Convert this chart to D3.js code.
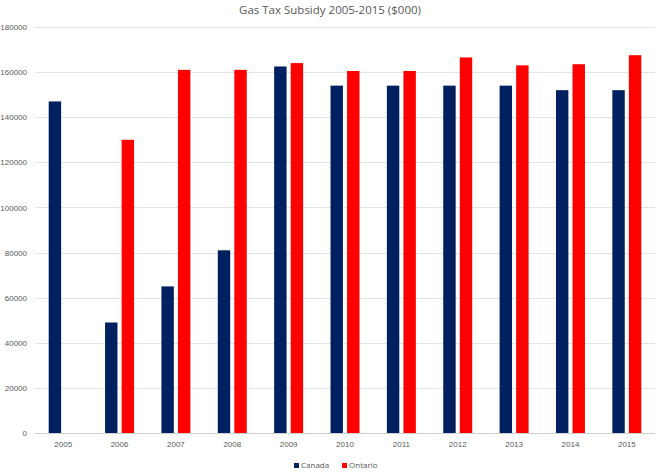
<!DOCTYPE html>
<html>
<head>
<meta charset="utf-8">
<script src="https://cdn.jsdelivr.net/npm/d3@7"></script>
<style>
  body { margin: 0; background: #fff; }
  svg { display: block; font-family: "Open Sans", sans-serif; }
</style>
</head>
<body>
<svg id="chart" width="660" height="474"></svg>
<script>
// data ($000)
var years = ["2005", "2006", "2007", "2008", "2009", "2010", "2011", "2012", "2013", "2014", "2015"];
var canada = [147000, 49000, 65000, 81000, 162500, 154000, 154000, 154000, 154000, 152000, 152000];
var ontario = [0, 130000, 161000, 161000, 164000, 160500, 160500, 166500, 163000, 163500, 167500];
var seriesNames = ["Canada", "Ontario"];
var seriesColors = ["#002060", "#ff0000"];
var yTicks = [0, 20000, 40000, 60000, 80000, 100000, 120000, 140000, 160000, 180000];

var svg = d3.select("#chart"),
    margin = {top: 27, right: 5, bottom: 41, left: 35},
    width = +svg.attr("width") - margin.left - margin.right,
    height = +svg.attr("height") - margin.top - margin.bottom;

var rows = years.map(function (y, i) {
    return {year: y, values: [canada[i], ontario[i]]};
});

var x0 = d3.scaleBand()
    .domain(years)
    .range([0, width])
    .paddingInner(0.486)
    .paddingOuter(0.243);

var x1 = d3.scaleBand()
    .domain(seriesNames)
    .range([0, x0.bandwidth()])
    .paddingInner(0.25);

var y = d3.scaleLinear()
    .domain([0, 180000])
    .range([height, 0]);

var g = svg.append("g")
    .attr("transform", "translate(" + margin.left + "," + margin.top + ")");

// gridlines
g.append("g")
    .selectAll("line")
    .data(yTicks)
    .enter()
    .append("line")
    .attr("x1", 0)
    .attr("x2", width)
    .attr("y1", function (d) { return Math.round(y(d)) + 0.5; })
    .attr("y2", function (d) { return Math.round(y(d)) + 0.5; })
    .attr("stroke", function (d) { return d === 0 ? "#d0d0d0" : "#e3e3e3"; })
    .attr("stroke-width", 1);

// y axis labels
var yAxis = g.append("g")
    .call(d3.axisLeft(y).tickValues(yTicks).tickSize(0).tickPadding(8).tickFormat(d3.format("d")));
yAxis.select(".domain").remove();
yAxis.selectAll("text")
    .attr("fill", "#595959")
    .style("font-size", "8px");

// x axis labels
var xAxis = g.append("g")
    .attr("transform", "translate(0," + height + ")")
    .call(d3.axisBottom(x0).tickSize(0).tickPadding(8));
xAxis.select(".domain").remove();
xAxis.selectAll("text")
    .attr("fill", "#595959")
    .style("font-size", "8px");

// bars
g.selectAll(".year")
    .data(rows)
    .enter()
    .append("g")
    .attr("class", "year")
    .attr("transform", function (d) { return "translate(" + x0(d.year) + ",0)"; })
    .selectAll("rect")
    .data(function (d) {
        return d.values.map(function (v, i) { return {name: seriesNames[i], value: v, color: seriesColors[i]}; });
    })
    .enter()
    .filter(function (d) { return d.value > 0; })
    .append("rect")
    .attr("x", function (d) { return x1(d.name); })
    .attr("y", function (d) { return y(d.value); })
    .attr("width", x1.bandwidth())
    .attr("height", function (d) { return height - y(d.value); })
    .attr("fill", function (d) { return d.color; });

// title
svg.append("text")
    .attr("x", 330)
    .attr("y", 14)
    .attr("text-anchor", "middle")
    .attr("fill", "#595959")
    .style("font-size", "11.5px")
    .text("Gas Tax Subsidy 2005-2015 ($000)");

// legend
var legendX = [294, 342];
var legend = svg.append("g")
    .selectAll("g")
    .data(seriesNames)
    .enter()
    .append("g")
    .attr("transform", function (d, i) { return "translate(" + legendX[i] + ",463)"; });
legend.append("rect")
    .attr("width", 5)
    .attr("height", 5)
    .attr("fill", function (d, i) { return seriesColors[i]; });
legend.append("text")
    .attr("x", 7)
    .attr("y", 5)
    .attr("fill", "#595959")
    .style("font-size", "8px")
    .text(function (d) { return d; });
</script>
</body>
</html>
